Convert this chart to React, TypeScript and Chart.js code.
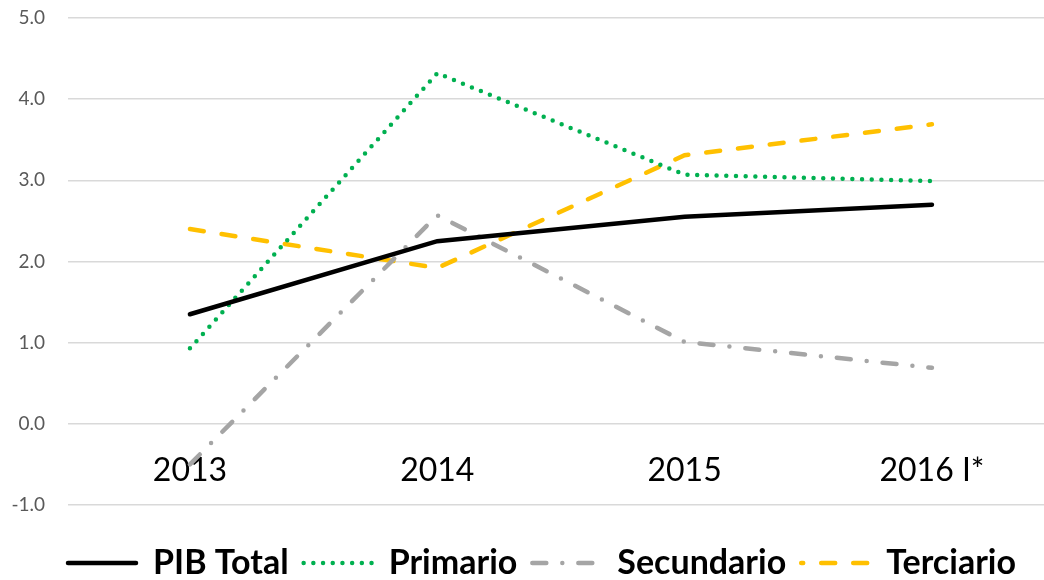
import React, { useEffect, useRef } from "react";
import { Chart, registerables } from "chart.js";

Chart.register(...registerables);

const categories = ["2013", "2014", "2015", "2016 I*"];
const pibTotal = [1.35, 2.25, 2.55, 2.7];
const primario = [0.93, 4.32, 3.07, 2.99];
const secundario = [-0.5, 2.57, 1.01, 0.69];
const terciario = [2.4, 1.92, 3.31, 3.69];
const seriesNames = ["PIB Total", "Primario", "Secundario", "Terciario"];

const toPoints = (vals: number[]) => vals.map((v, i) => ({ x: i, y: v }));

const legendOffsets = [0, 0, 0, 12];

const legendFitPlugin = {
  id: "legendFit",
  beforeInit(chart: any) {
    const lg = chart.legend;
    if (!lg) return;
    const origFit = lg.fit;
    lg.fit = function () {
      origFit.call(this);
      this.height = 75;
    };
    const origDraw = lg.draw;
    lg.draw = function () {
      const ctx = this.ctx;
      ctx.save();
      ctx.translate(20, 0);
      origDraw.call(this);
      ctx.restore();
    };
  },
};

export default function App() {
  const ref = useRef<HTMLCanvasElement | null>(null);

  useEffect(() => {
    document.body.style.margin = "0";
    const canvas = ref.current;
    if (!canvas) return;
    const LW = 4.5;
    const chart = new Chart(canvas, {
      type: "line",
      data: {
        datasets: [
          {
            label: seriesNames[0],
            data: toPoints(pibTotal),
            borderColor: "#000000",
            backgroundColor: "#000000",
            borderWidth: LW,
            borderCapStyle: "round",
            pointRadius: 0,
          },
          {
            label: seriesNames[1],
            data: toPoints(primario),
            borderColor: "#00B050",
            backgroundColor: "#00B050",
            borderWidth: LW,
            borderDash: [0, 9.7],
            borderCapStyle: "round",
            pointRadius: 0,
          },
          {
            label: seriesNames[2],
            data: toPoints(secundario),
            borderColor: "#A5A5A5",
            backgroundColor: "#A5A5A5",
            borderWidth: LW,
            borderDash: [14, 16, 0, 16],
            borderCapStyle: "round",
            pointRadius: 0,
          },
          {
            label: seriesNames[3],
            data: toPoints(terciario),
            borderColor: "#FFC000",
            backgroundColor: "#FFC000",
            borderWidth: LW,
            borderDash: [14, 18],
            borderCapStyle: "round",
            pointRadius: 0,
          },
        ],
      },
      options: {
        animation: false,
        responsive: false,
        layout: { padding: { top: 18, left: 0, right: 0, bottom: 0 } },
        scales: {
          x: {
            type: "linear",
            min: -0.493,
            max: 3.453,
            position: { y: 0 } as any,
            grid: { display: false, drawTicks: false },
            border: { display: false },
            afterBuildTicks: (scale: any) => {
              scale.ticks = categories.map((_, i) => ({ value: i }));
            },
            ticks: {
              autoSkip: false,
              maxRotation: 0,
              padding: 28,
              color: "#000000",
              font: { family: "Lato", size: 32 },
              callback: (v: any) => categories[Number(v)] ?? "",
            },
          },
          y: {
            min: -1,
            max: 5,
            grid: { color: "#D9D9D9", lineWidth: 1.5, drawTicks: false },
            border: { display: false },
            afterFit: (scale: any) => {
              scale.width = 68;
              scale.paddingTop = 0;
              scale.paddingBottom = 0;
            },
            ticks: {
              stepSize: 1,
              padding: 23,
              color: "#595959",
              font: { family: "Lato", size: 19 },
              callback: (v: any) => Number(v).toFixed(1),
            },
          },
        },
        plugins: {
          tooltip: { enabled: false },
          legend: {
            position: "bottom",
            title: { display: true, text: "", font: { size: 1, lineHeight: 1 }, padding: { top: 25, bottom: 0 } },
            labels: {
              usePointStyle: true,
              pointStyle: "line",
              pointStyleWidth: 68,
              boxHeight: 8,
              padding: 15,
              color: "#000000",
              font: { family: "Lato", size: 34, weight: "bold" },
              generateLabels: (ch: any) => {
                const items = Chart.defaults.plugins.legend.labels.generateLabels(ch);
                return items.map((it: any, i: number) => {
                  const ds = ch.data.datasets[it.datasetIndex];
                  return {
                    ...it,
                    pointStyle: "line",
                    lineDash: ds.borderDash || [],
                    lineDashOffset: legendOffsets[i] || 0,
                    lineWidth: LW,
                    lineCap: "round",
                    strokeStyle: ds.borderColor,
                    fillStyle: ds.borderColor,
                  };
                });
              },
            },
          },
        },
      },
      plugins: [legendFitPlugin],
    } as any);
    return () => chart.destroy();
  }, []);

  return <canvas ref={ref} width={1044} height={580} style={{ display: "block" }} />;
}
